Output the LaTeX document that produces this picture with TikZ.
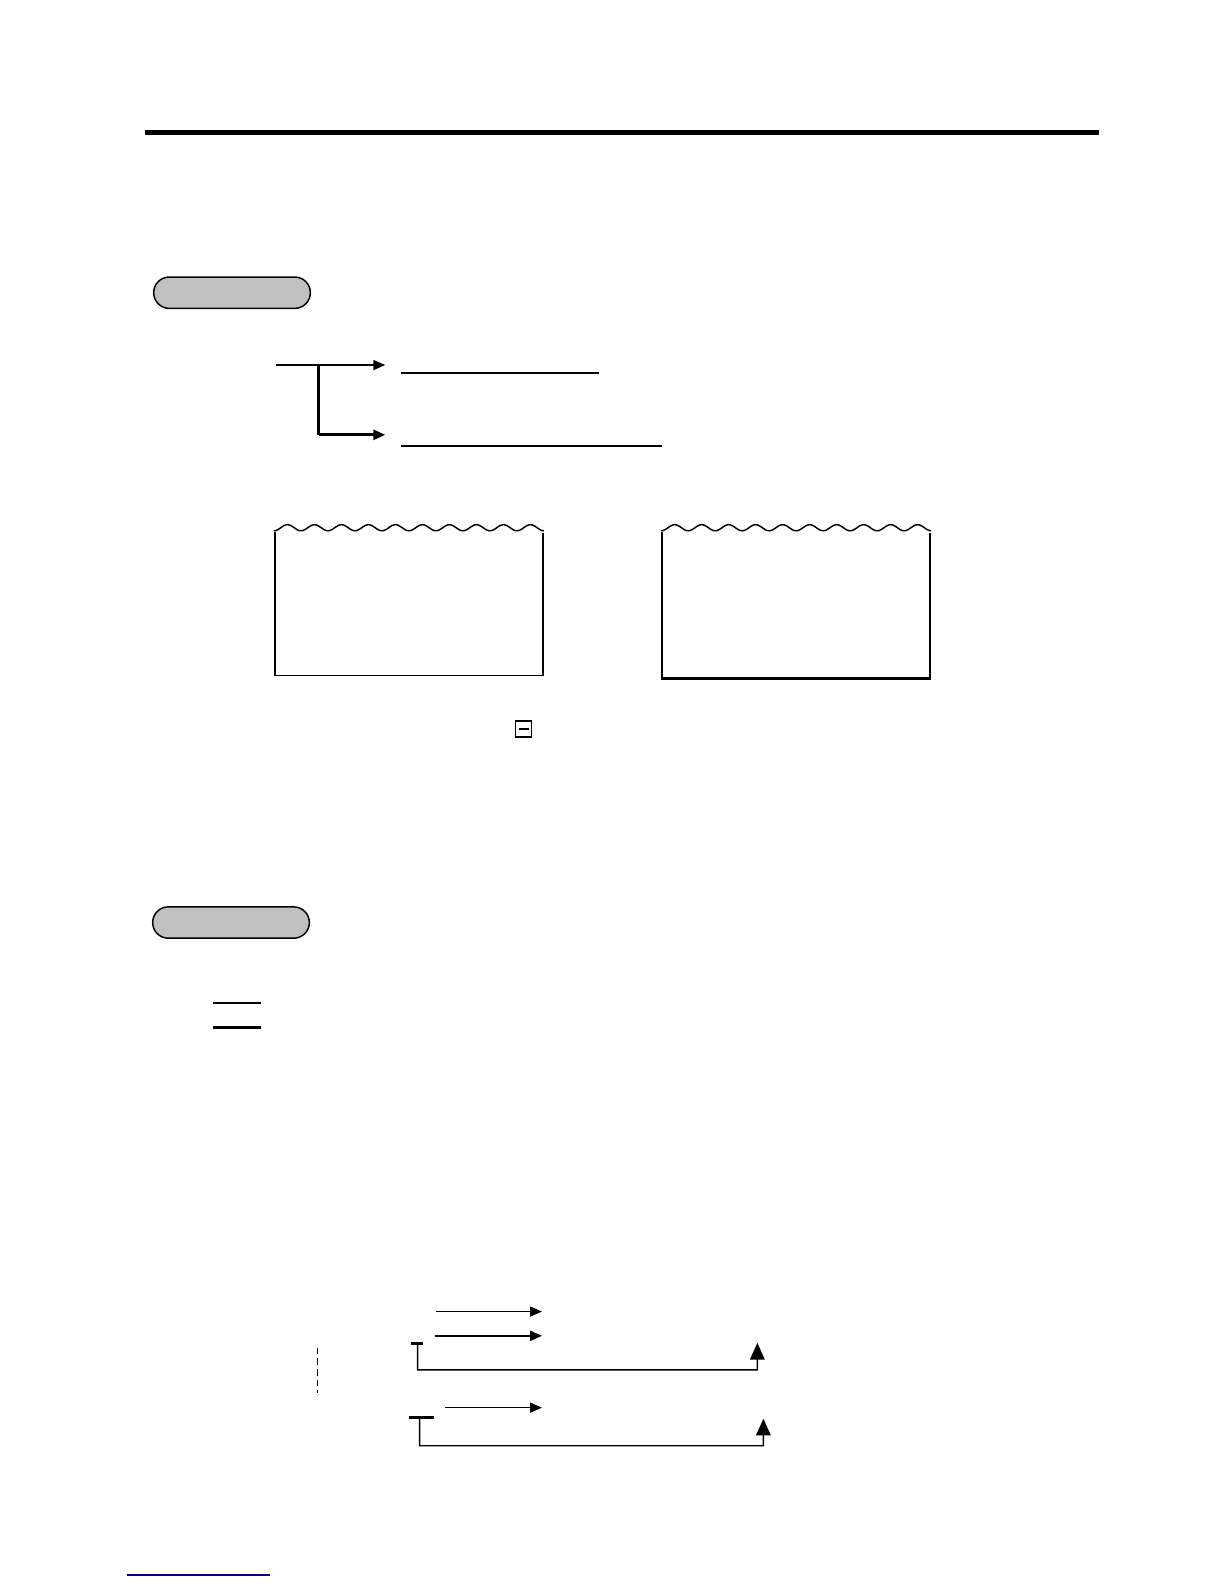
\documentclass[tikz,border=0pt]{standalone}
\usetikzlibrary{arrows.meta}

\tikzset{
  pill/.style={draw, line width=1.1pt, fill={rgb,255:red,192;green,192;blue,192}, rounded corners=11.7pt, minimum width=117.5pt, minimum height=23.5pt, inner sep=0pt},
  thinarrow/.style={line width=1.1pt, -{Triangle[length=9pt,width=7.5pt]}},
  bigarrow/.style={line width=1.1pt, -{Triangle[length=12.5pt,width=11pt]}}
}

\begin{document}
\begin{tikzpicture}[x=0.75pt,y=0.75pt,yscale=-1,xscale=1]
\useasboundingbox (0,0) rectangle (1224,1584);
\begin{scope}[scale=1.011]

%Straight Lines [id:rule]
\draw [line width=3.4pt] (143,131) -- (1087,131) ;

%Shape: Pill [id:pill1]
\node [pill] (pillA) at (229.5,289.5) {};
%Shape: Pill [id:pill2]
\node [pill] (pillB) at (228.5,912.5) {};

%Branch arrows
\coordinate (brIn) at (273,361);
\coordinate (brJoin) at (315,361);
\coordinate (brCorner) at (315,430);
\coordinate (brTopEnd) at (381,361);
\coordinate (brLowEnd) at (381,430);
\draw [thinarrow] (brIn) -- (brTopEnd) ;
\draw [line width=2pt] (brJoin) -- (brCorner) ;
\draw [line width=2pt, -{Triangle[length=9pt,width=7.5pt]}] (brCorner) -- (brLowEnd) ;

%Straight Lines [id:underlines]
\draw [line width=1.1pt] (397,369) -- (592,369) ;
\draw [line width=1.1pt] (397,441) -- (655,441) ;

%Shape: Torn Box [id:box1]
\draw [line width=1.1pt] plot [domain=0:10, samples=300, smooth] ({271+26.7*\x},{522+3*cos(360*\x)}) ;
\draw [line width=1.1pt] (272,526) -- (272,668) -- (537,668) -- (537,527) ;

%Shape: Torn Box [id:box2]
\draw [line width=1.1pt] plot [domain=0:10, samples=300, smooth] ({654+26.7*\x},{522+3*cos(360*\x)}) ;
\draw [line width=1.9pt] (655,526) -- (655,671) -- (920,671) -- (920,527) ;

%Shape: Key [id:minus]
\draw [line width=1pt] (510,713) rectangle (526,729) ;
\draw [line width=1pt] (513,721) -- (523,721) ;

%Straight Lines [id:bars]
\draw [line width=1.6pt] (211,992) -- (258,992) ;
\draw [line width=2.4pt] (211,1016) -- (258,1016) ;

%Lower arrows
\coordinate (aOneS) at (431,1297);
\coordinate (aOneE) at (536,1297);
\coordinate (aTwoS) at (430,1321);
\coordinate (aTwoE) at (536,1321);
\coordinate (aThrS) at (440,1392);
\coordinate (aThrE) at (536,1392);
\draw [thinarrow] (aOneS) -- (aOneE) ;
\draw [thinarrow, line width=1.6pt] (aTwoS) -- (aTwoE) ;
\draw [thinarrow] (aThrS) -- (aThrE) ;

%Return loop 1
\coordinate (retOneS) at (413,1330);
\coordinate (retOneE) at (749,1328);
\draw [line width=2.4pt] (407,1329) -- (418,1329) ;
\draw [bigarrow] (retOneS) |- (749,1355) -- (retOneE) ;

%Return loop 2
\coordinate (retTwoS) at (415,1403);
\coordinate (retTwoE) at (755,1403);
\draw [line width=2.4pt] (405,1402) -- (429,1402) ;
\draw [bigarrow] (retTwoS) |- (755,1430) -- (retTwoE) ;

%Straight Lines [id:dashed]
\draw [line width=1pt, dash pattern={on 5pt off 3pt}] (314,1333) -- (314,1378) ;

%Straight Lines [id:link]
\draw [line width=1.1pt, color={rgb,255:red,0;green,0;blue,128}] (126,1558) -- (267,1558) ;

\end{scope}
\end{tikzpicture}
\end{document}
